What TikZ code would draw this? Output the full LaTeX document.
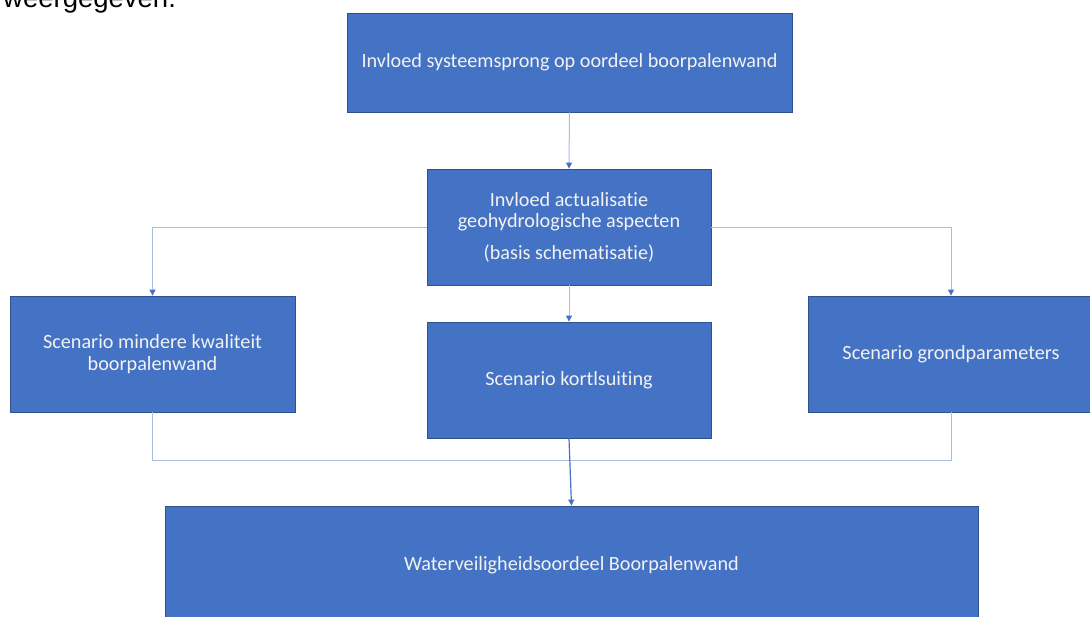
\documentclass[tikz,border=0pt]{standalone}
\usepackage{fontspec}
\setmainfont[Ligatures=NoCommon]{Carlito}
\newfontfamily\arialfont{Liberation Sans}
\usetikzlibrary{arrows.meta}
\definecolor{boxfill}{HTML}{4472C4}
\definecolor{boxline}{HTML}{2F528F}
\definecolor{connlight}{HTML}{A9BEE3}
\definecolor{conndark}{HTML}{4472C4}
\definecolor{txt}{HTML}{F2F2F2}
\tikzset{
  box/.style={draw=boxline, line width=0.8pt, fill=boxfill, rectangle, inner sep=0pt,
    text=txt, align=center, font=\fontsize{20.2}{21.5}\selectfont},
  conn/.style={draw=connlight, line width=1pt},
  arr/.style={-{Triangle[length=6pt,width=6pt,color=conndark,fill=conndark]}},
}
\begin{document}
\begin{tikzpicture}[x=1pt,y=-1pt]
\useasboundingbox (0,0) rectangle (1090,616);
\clip (0,0) rectangle (1090,616);
\fill[white] (0,0) rectangle (1090,616);
\node[anchor=base west, inner sep=0pt, font=\arialfont\fontsize{27.5}{30}\selectfont] (cap) at (3,7.5) {weergegeven.};
\node[box, minimum width=445, minimum height=99] (top) at (569.5,62.5) {Invloed systeemsprong op oordeel boorpalenwand};
\node[box, minimum width=284, minimum height=116] (mid) at (569,227) {Invloed actualisatie\\geohydrologische aspecten\\[10pt](basis schematisatie)};
\node[box, minimum width=285, minimum height=116] (left) at (152.5,354) {Scenario mindere kwaliteit\\boorpalenwand};
\node[box, minimum width=284, minimum height=116] (ctr) at (569,380) {Scenario kortlsuiting};
\node[box, minimum width=286, minimum height=116] (right) at (951,354) {Scenario grondparameters};
\node[box, minimum width=813, minimum height=118] (bot) at (571.5,565) {Waterveiligheidsoordeel Boorpalenwand};
\coordinate (jl) at (152.5,460);
\draw[conn, arr] (top.south) -- (mid.north);
\draw[conn, arr] (mid.west) -| (left.north);
\draw[conn, arr] (mid.east) -| (right.north);
\draw[conn, arr] (mid.south) -- (ctr.north);
\draw[conn] (left.south) -- (jl) -| (right.south);
\draw[draw=conndark, line width=1.2pt, arr] (ctr.south) -- (bot.north);
\end{tikzpicture}
\end{document}
